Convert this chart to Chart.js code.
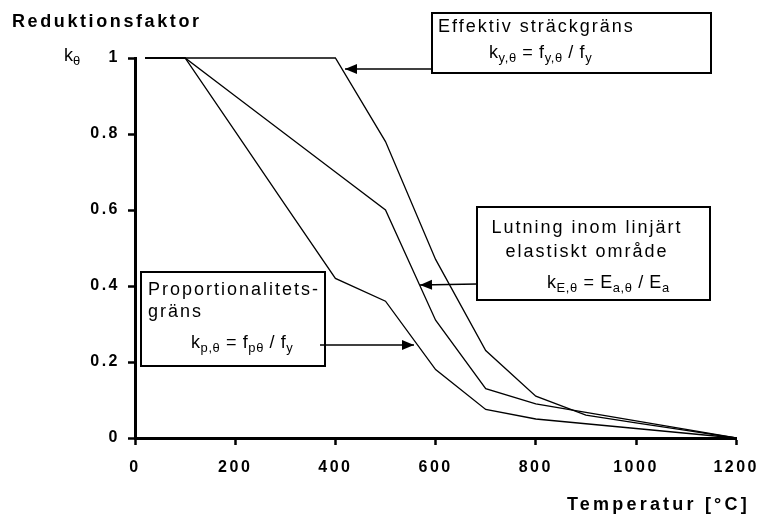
<!DOCTYPE html>
<html>
<head>
<meta charset="utf-8">
<script src="https://cdn.jsdelivr.net/npm/chart.js@4/dist/chart.umd.min.js"></script>
<style>
  html, body { margin: 0; padding: 0; background: #fff; }
  #wrap { width: 767px; height: 518px; position: relative; }
</style>
</head>
<body>
<div id="wrap"><canvas id="c"></canvas></div>
<script>
// Temperature [°C] and reduction factors (EN 1993-1-2 style curves)
const temps = [20, 100, 200, 300, 400, 500, 600, 700, 800, 900, 1000, 1100, 1200];
const kY = [1, 1, 1, 1, 1, 0.78, 0.47, 0.23, 0.11, 0.06, 0.04, 0.02, 0];
const kE = [1, 1, 0.9, 0.8, 0.7, 0.6, 0.31, 0.13, 0.09, 0.0675, 0.045, 0.0225, 0];
const kP = [1, 1, 0.807, 0.613, 0.42, 0.36, 0.18, 0.075, 0.05, 0.0375, 0.025, 0.0125, 0];
const xTicks = [0, 200, 400, 600, 800, 1000, 1200];
const yTicks = [0, 0.2, 0.4, 0.6, 0.8, 1];

const FONT = "'Liberation Sans', Arial, sans-serif";

const toPts = (ys) => temps.map((t, i) => ({ x: t, y: ys[i] }));
const lineSet = (label, ys) => ({
  label,
  data: toPts(ys),
  borderColor: "#000",
  borderWidth: 1.3,
  pointRadius: 0,
  tension: 0,
  fill: false,
  clip: false,
});

// draw text made of runs, some as subscripts
function drawRuns(ctx, x, y, runs, size) {
  let cx = x;
  for (const r of runs) {
    const s = r.sub ? size * 0.72 : size;
    ctx.font = `${s}px ${FONT}`;
    ctx.fillText(r.t, cx, r.sub ? y + size * 0.3 : y);
    cx += ctx.measureText(r.t).width;
  }
}

function arrow(ctx, x1, y1, x2, y2) {
  ctx.beginPath();
  ctx.moveTo(x1, y1);
  ctx.lineTo(x2, y2);
  ctx.lineWidth = 1.5;
  ctx.strokeStyle = "#000";
  ctx.stroke();
  const a = Math.atan2(y2 - y1, x2 - x1);
  const L = 12, W = 5;
  ctx.beginPath();
  ctx.moveTo(x2, y2);
  ctx.lineTo(x2 - L * Math.cos(a) + W * Math.sin(a), y2 - L * Math.sin(a) - W * Math.cos(a));
  ctx.lineTo(x2 - L * Math.cos(a) - W * Math.sin(a), y2 - L * Math.sin(a) + W * Math.cos(a));
  ctx.closePath();
  ctx.fillStyle = "#000";
  ctx.fill();
}

function box(ctx, x, y, w, h) {
  ctx.fillStyle = "#fff";
  ctx.fillRect(x, y, w, h);
  ctx.lineWidth = 2;
  ctx.strokeStyle = "#000";
  ctx.strokeRect(x, y, w, h);
}

const notes = {
  id: "notes",
  beforeDraw(chart) {
    chart.ctx.letterSpacing = "2.5px";
  },
  afterDraw(chart) {
    const ctx = chart.ctx;
    ctx.save();
    ctx.fillStyle = "#000";
    ctx.textBaseline = "middle";
    ctx.textAlign = "left";

    // titles
    ctx.letterSpacing = "2.6px";
    ctx.font = `bold 18px ${FONT}`;
    ctx.fillText("Reduktionsfaktor", 12, 22);
    ctx.letterSpacing = "3.2px";
    ctx.font = `bold 18px ${FONT}`;
    ctx.fillText("Temperatur [°C]", 567, 505);

    ctx.letterSpacing = "0px";
    drawRuns(ctx, 64, 56, [{ t: "k" }, { t: "θ", sub: true }], 18);

    // box 1: effektiv sträckgräns
    arrow(ctx, 432, 69, 345, 69);
    box(ctx, 432, 13, 279, 60);
    ctx.fillStyle = "#000";
    ctx.letterSpacing = "2px";
    ctx.font = `18px ${FONT}`;
    ctx.fillText("Effektiv sträckgräns", 438, 27);
    ctx.letterSpacing = "0.6px";
    drawRuns(ctx, 489, 53, [{ t: "k" }, { t: "y,θ", sub: true }, { t: " = f" }, { t: "y,θ", sub: true }, { t: " / f" }, { t: "y", sub: true }], 18);

    // box 2: lutning
    arrow(ctx, 477, 284, 420, 285);
    box(ctx, 477, 207, 233, 93);
    ctx.fillStyle = "#000";
    ctx.letterSpacing = "2px";
    ctx.font = `18px ${FONT}`;
    ctx.textAlign = "center";
    ctx.fillText("Lutning inom linjärt", 587, 228);
    ctx.fillText("elastiskt område", 587, 252);
    ctx.textAlign = "left";
    ctx.letterSpacing = "0.6px";
    drawRuns(ctx, 547, 283, [{ t: "k" }, { t: "E,θ", sub: true }, { t: " = E" }, { t: "a,θ", sub: true }, { t: " / E" }, { t: "a", sub: true }], 18);

    // box 3: proportionalitetsgräns
    box(ctx, 141, 272, 184, 94);
    arrow(ctx, 320, 345, 414, 345);
    ctx.fillStyle = "#000";
    ctx.letterSpacing = "2px";
    ctx.font = `18px ${FONT}`;
    ctx.fillText("Proportionalitets-", 148, 290);
    ctx.fillText("gräns", 148, 312);
    ctx.letterSpacing = "0.6px";
    drawRuns(ctx, 191, 343, [{ t: "k" }, { t: "p,θ", sub: true }, { t: " = f" }, { t: "pθ", sub: true }, { t: " / f" }, { t: "y", sub: true }], 18);

    ctx.restore();
  },
};

new Chart(document.getElementById("c"), {
  type: "line",
  data: {
    datasets: [lineSet("ky", kY), lineSet("kE", kE), lineSet("kp", kP)],
  },
  options: {
    responsive: true,
    maintainAspectRatio: false,
    animation: false,
    layout: { padding: { top: 58, right: 30, left: 0, bottom: 0 } },
    plugins: { legend: { display: false }, tooltip: { enabled: false } },
    scales: {
      x: {
        type: "linear",
        min: 0,
        max: 1200,
        afterBuildTicks: (s) => { s.ticks = xTicks.map((v) => ({ value: v })); },
        afterFit: (s) => { s.height = 80; },
        ticks: {
          color: "#000",
          font: { family: FONT, size: 16, weight: "bold" },
          padding: 13,
          maxRotation: 0,
          callback: (v) => String(v),
        },
        grid: { display: true, drawOnChartArea: false, drawTicks: true, tickLength: 7, tickWidth: 2.5, color: "#000" },
        border: { display: true, width: 3, color: "#000" },
      },
      y: {
        min: 0,
        max: 1,
        afterBuildTicks: (s) => { s.ticks = yTicks.map((v) => ({ value: v })); },
        afterFit: (s) => { s.width = 135; },
        ticks: {
          color: "#000",
          font: { family: FONT, size: 16, weight: "bold" },
          padding: 8,
          callback: (v) => String(Number(v.toFixed(1))),
        },
        grid: { display: true, drawOnChartArea: false, drawTicks: true, tickLength: 7, tickWidth: 2.5, color: "#000" },
        border: { display: true, width: 3, color: "#000" },
      },
    },
  },
  plugins: [notes],
});
</script>
</body>
</html>
